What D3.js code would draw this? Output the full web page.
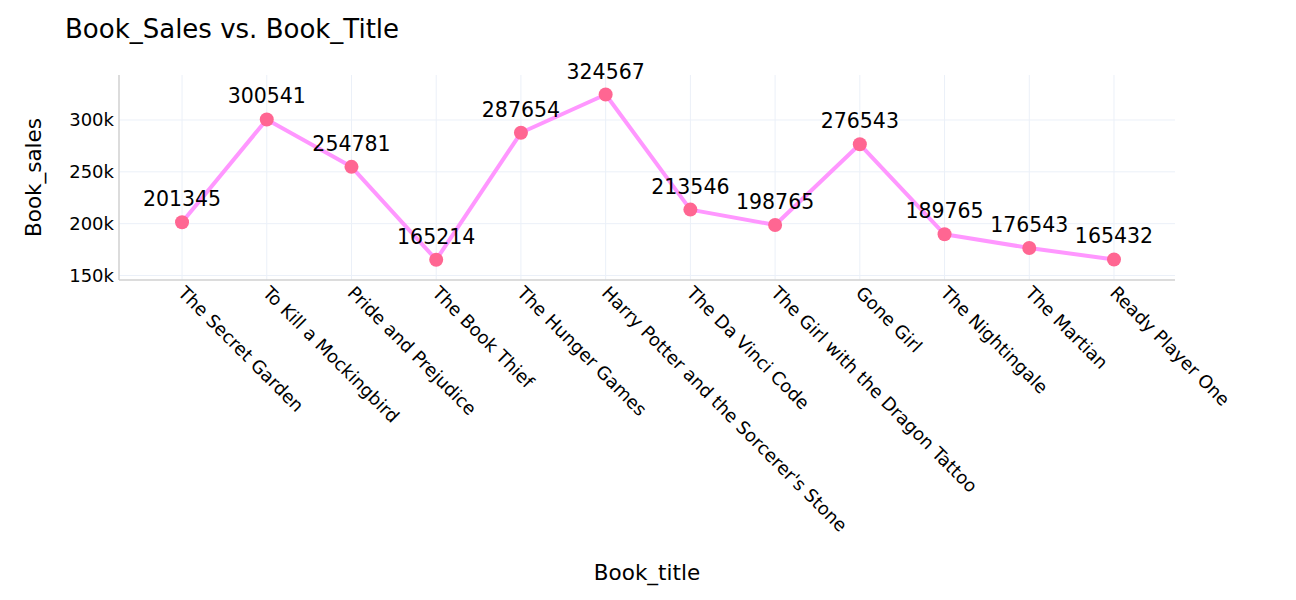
<!DOCTYPE html>
<html><head><meta charset="utf-8">
<script src="https://cdn.jsdelivr.net/npm/d3@7"></script>
<style>body{margin:0;background:#fff}svg{display:block}text{font-family:Verdana,"DejaVu Sans",sans-serif}</style>
</head><body><div id="chart"></div>
<script>
const titles = ["The Secret Garden","To Kill a Mockingbird","Pride and Prejudice","The Book Thief","The Hunger Games","Harry Potter and the Sorcerer's Stone","The Da Vinci Code","The Girl with the Dragon Tattoo","Gone Girl","The Nightingale","The Martian","Ready Player One"];
const sales = [201345,300541,254781,165214,287654,324567,213546,198765,276543,189765,176543,165432];
const yTicks = [150000,200000,250000,300000];
const yTickLabels = ["150k","200k","250k","300k"];

const W=1296,H=600;
const L=119,R=1175,T=75,B=280;
const svg=d3.select("#chart").append("svg").attr("width",W).attr("height",H);
const x=d3.scaleLinear().domain([-0.744,titles.length-1+0.72]).range([L,R]);
const y=d3.scaleLinear().domain([145650,343400]).range([B,T]);

const g=svg.append("g");
g.selectAll(".gx").data(titles).join("line").attr("x1",(d,i)=>x(i)).attr("x2",(d,i)=>x(i)).attr("y1",T).attr("y2",B).attr("stroke","#EBF0F8").attr("stroke-width",1);
g.selectAll(".gy").data(yTicks).join("line").attr("x1",L).attr("x2",R).attr("y1",d=>y(d)).attr("y2",d=>y(d)).attr("stroke","#EBF0F8").attr("stroke-width",1);
g.append("line").attr("x1",L).attr("x2",L).attr("y1",T).attr("y2",B).attr("stroke","#D0D0D0").attr("stroke-width",1.5);
g.append("line").attr("x1",L).attr("x2",R).attr("y1",B).attr("y2",B).attr("stroke","#D0D0D0").attr("stroke-width",1.5);
g.selectAll(".yt").data(yTicks).join("text").attr("x",L-5).attr("y",d=>y(d)).attr("dy","0.36em").attr("text-anchor","end").attr("font-size",18).attr("fill","#000").text((d,i)=>yTickLabels[i]);
g.selectAll(".xt").data(titles).join("text").attr("text-anchor","start").attr("font-size",18).attr("fill","#000")
 .attr("transform",(d,i)=>`translate(${x(i)-5},${B+14}) rotate(45)`).text(d=>d);
const line=d3.line().x((d,i)=>x(i)).y(d=>y(d));
g.append("path").datum(sales).attr("d",line).attr("fill","none").attr("stroke","#FF97FF").attr("stroke-width",4).attr("stroke-linejoin","round");
g.selectAll(".pt").data(sales).join("circle").attr("cx",(d,i)=>x(i)).attr("cy",d=>y(d)).attr("r",7).attr("fill","#FF6692");
g.selectAll(".lb").data(sales).join("text").attr("x",(d,i)=>x(i)).attr("y",d=>y(d)-16).attr("text-anchor","middle").attr("font-size",20.5).attr("fill","#000").text(d=>d);
svg.append("text").attr("x",65).attr("y",38).attr("font-size",26).attr("fill","#000").text("Book_Sales vs. Book_Title");
svg.append("text").attr("x",(L+R)/2).attr("y",580).attr("text-anchor","middle").attr("font-size",21.5).attr("fill","#000").text("Book_title");
svg.append("text").attr("transform",`translate(41,${(T+B)/2}) rotate(-90)`).attr("text-anchor","middle").attr("font-size",21.5).attr("fill","#000").text("Book_sales");
</script></body></html>
